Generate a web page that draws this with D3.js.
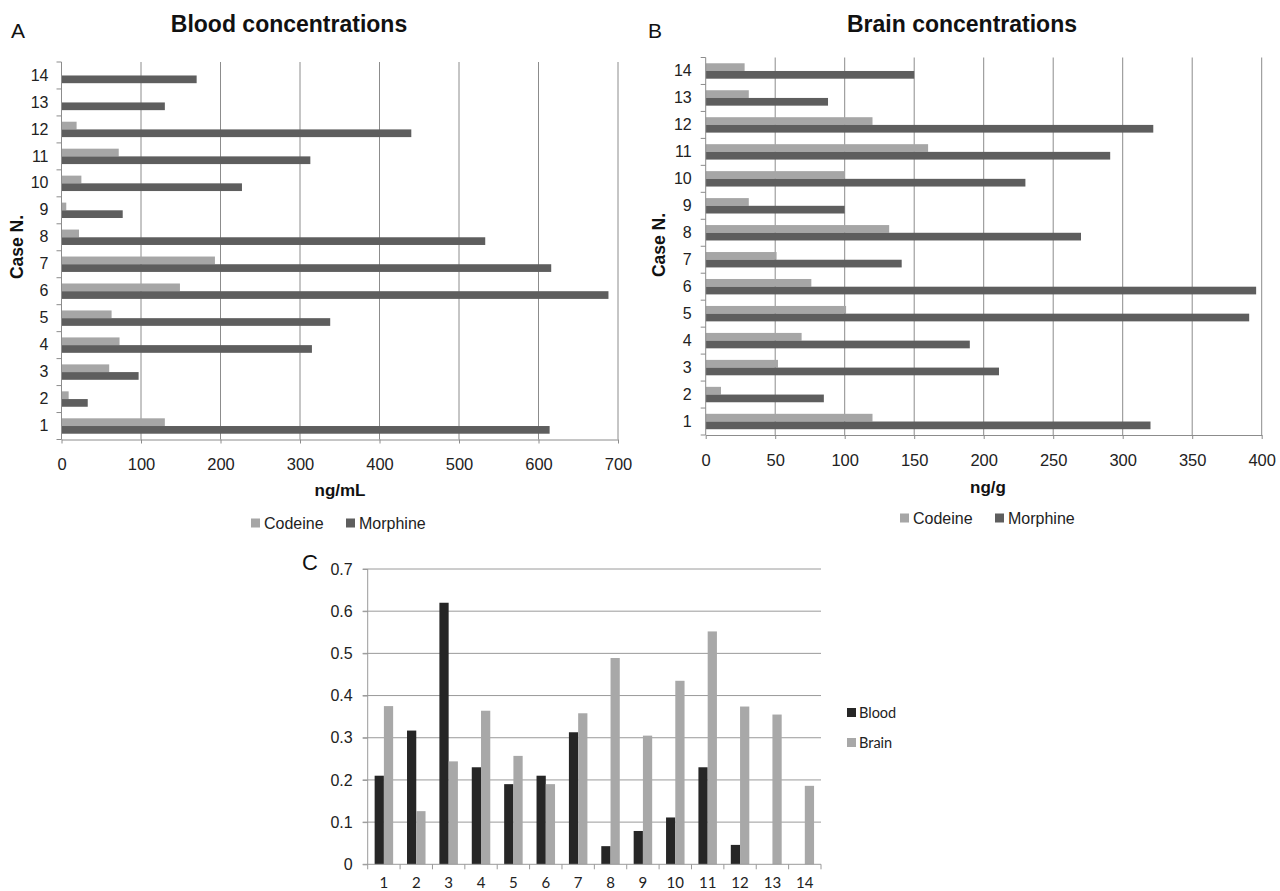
<!DOCTYPE html>
<html>
<head>
<meta charset="utf-8">
<script src="https://cdn.jsdelivr.net/npm/d3@7"></script>
<style>
  html, body { margin: 0; padding: 0; background: #fff; }
  svg { display: block; }
</style>
</head>
<body>
<svg id="chart" width="1280" height="891"></svg>
<script>
// ---------------- DATA ----------------
const cases = ["1","2","3","4","5","6","7","8","9","10","11","12","13","14"];
const seriesNames = ["Codeine", "Morphine"];
const ratioSeriesNames = ["Blood", "Brain"];

// Panel A: blood concentrations (ng/mL)
const bloodCodeine  = [130, 9, 60, 73, 63, 149, 193, 22, 6, 25, 72, 19, 0, 0];
const bloodMorphine = [614, 33, 97, 315, 338, 688, 616, 533, 77, 227, 313, 440, 130, 170];
const bloodTicks = [0, 100, 200, 300, 400, 500, 600, 700];

// Panel B: brain concentrations (ng/g)
const brainCodeine  = [120, 11, 52, 69, 101, 76, 51, 132, 31, 100, 160, 120, 31, 28];
const brainMorphine = [320, 85, 211, 190, 391, 396, 141, 270, 100, 230, 291, 322, 88, 150];
const brainTicks = [0, 50, 100, 150, 200, 250, 300, 350, 400];

// Panel C: codeine/morphine ratio
const ratioBlood = [0.21, 0.317, 0.62, 0.23, 0.19, 0.21, 0.313, 0.043, 0.079, 0.111, 0.23, 0.046, null, null];
const ratioBrain = [0.375, 0.126, 0.244, 0.364, 0.257, 0.19, 0.358, 0.489, 0.305, 0.435, 0.552, 0.374, 0.355, 0.186];
const ratioTicks = [0, 0.1, 0.2, 0.3, 0.4, 0.5, 0.6, 0.7];

// ---------------- STYLE ----------------
const ARIAL = "'Liberation Sans', Arial, sans-serif";
const CAL = "Lato, 'Open Sans', sans-serif";
const colCodeine = "#a6a6a6";
const colMorphine = "#5e5e5e";
const colBlood = "#262626";
const colBrain = "#a8a8a8";
const gridCol = "#8c8c8c";

const svg = d3.select("#chart");

function horizPanel(opt) {
  const g = svg.append("g");
  const x = d3.scaleLinear().domain([0, opt.max]).range([opt.x0, opt.x1]);
  const y = d3.scaleBand().domain(cases.slice().reverse()).range([opt.top, opt.bottom]).padding(0);
  const bw = y.bandwidth() / 3.5;

  // gridlines
  g.append("g").selectAll("line").data(opt.ticks.filter(t => t > 0)).join("line")
    .attr("x1", d => x(d)).attr("x2", d => x(d))
    .attr("y1", opt.top).attr("y2", opt.bottom)
    .attr("stroke", gridCol).attr("stroke-width", 1);

  // bars
  const rows = cases.map((c, i) => ({c, a: opt.a[i], b: opt.b[i]}));
  g.append("g").selectAll("rect").data(rows.filter(r => r.a > 0)).join("rect")
    .attr("x", x(0)).attr("y", d => y(d.c) + y.bandwidth() / 2 - bw)
    .attr("width", d => x(d.a) - x(0)).attr("height", bw)
    .attr("fill", colCodeine);
  g.append("g").selectAll("rect").data(rows.filter(r => r.b > 0)).join("rect")
    .attr("x", x(0)).attr("y", d => y(d.c) + y.bandwidth() / 2)
    .attr("width", d => x(d.b) - x(0)).attr("height", bw)
    .attr("fill", colMorphine);

  // x axis
  const xa = g.append("g").attr("transform", `translate(0,${opt.bottom})`)
    .call(d3.axisBottom(x).tickValues(opt.ticks).tickSize(4).tickSizeOuter(0).tickPadding(opt.xpad));
  xa.select(".domain").attr("stroke", gridCol);
  xa.selectAll(".tick line").attr("stroke", gridCol);
  xa.selectAll("text").attr("font-family", ARIAL).attr("font-size", opt.xfs).attr("fill", "#222");

  // y axis line + band boundary ticks
  g.append("line").attr("x1", x(0)).attr("x2", x(0)).attr("y1", opt.top).attr("y2", opt.bottom)
    .attr("stroke", gridCol);
  const bounds = y.domain().map(c => y(c)).concat([opt.bottom]);
  g.append("g").selectAll("line").data(bounds).join("line")
    .attr("x1", x(0) - 5).attr("x2", x(0)).attr("y1", d => d).attr("y2", d => d)
    .attr("stroke", gridCol);
  const ya = g.append("g").attr("transform", `translate(${x(0)},0)`)
    .call(d3.axisLeft(y).tickSize(0).tickPadding(opt.ypad));
  ya.select(".domain").remove();
  ya.selectAll("text").attr("font-family", ARIAL).attr("font-size", opt.yfs).attr("fill", "#222");

  // titles
  g.append("text").attr("x", opt.titleX).attr("y", 31.5).attr("text-anchor", "middle")
    .attr("font-family", ARIAL).attr("font-weight", "bold").attr("font-size", 23).attr("fill", "#111")
    .text(opt.title);
  g.append("text").attr("x", opt.letterX).attr("y", 38).attr("font-family", ARIAL)
    .attr("font-size", 21).attr("fill", "#111").text(opt.letter);
  g.append("text").attr("transform", `translate(${opt.caseX},${opt.caseY}) rotate(-90)`)
    .attr("text-anchor", "middle").attr("dy", "0.35em")
    .attr("font-family", ARIAL).attr("font-weight", "bold").attr("font-size", 17.5).attr("fill", "#111")
    .text("Case N.");
  g.append("text").attr("x", opt.unitX).attr("y", opt.unitY).attr("text-anchor", "middle")
    .attr("dy", "0.35em").attr("font-family", ARIAL).attr("font-weight", "bold").attr("font-size", 17)
    .attr("fill", "#111").text(opt.unit);

  // legend
  const lg = g.append("g");
  const items = [{n: seriesNames[0], c: colCodeine, x: opt.legX}, {n: seriesNames[1], c: colMorphine, x: opt.legX + 95}];
  items.forEach(it => {
    lg.append("rect").attr("x", it.x).attr("y", opt.legY - 4.5).attr("width", 9).attr("height", 9).attr("fill", it.c);
    lg.append("text").attr("x", it.x + 13).attr("y", opt.legY).attr("dy", "0.35em")
      .attr("font-family", ARIAL).attr("font-size", 16).attr("fill", "#222").text(it.n);
  });
}

horizPanel({
  x0: 61.5, x1: 618, top: 62, bottom: 439.5, max: 700, ticks: bloodTicks,
  a: bloodCodeine, b: bloodMorphine, xpad: 14.5, ypad: 13, xfs: 16.5, yfs: 16,
  title: "Blood concentrations", titleX: 289, letter: "A", letterX: 11,
  caseX: 17, caseY: 247, unit: "ng/mL", unitX: 340, unitY: 490, legX: 251, legY: 523
});
horizPanel({
  x0: 705.7, x1: 1261.7, top: 57.5, bottom: 435, max: 400, ticks: brainTicks,
  a: brainCodeine, b: brainMorphine, xpad: 15, ypad: 14, xfs: 16.5, yfs: 16,
  title: "Brain concentrations", titleX: 962, letter: "B", letterX: 648,
  caseX: 659, caseY: 245, unit: "ng/g", unitX: 988, unitY: 487, legX: 900, legY: 518
});

// ---------------- PANEL C ----------------
(function () {
  const g = svg.append("g");
  const x0 = 367.7, x1 = 821, yb = 864.3, yt = 569;
  const x = d3.scaleBand().domain(cases).range([x0, x1]).padding(0);
  const y = d3.scaleLinear().domain([0, 0.7]).range([yb, yt]);
  const bw = x.bandwidth() / 3.5;

  g.append("g").selectAll("line").data(ratioTicks.filter(t => t > 0)).join("line")
    .attr("x1", x0 - 5).attr("x2", x1).attr("y1", d => y(d)).attr("y2", d => y(d))
    .attr("stroke", "#9a9a9a");

  const rows = cases.map((c, i) => ({c, a: ratioBlood[i], b: ratioBrain[i]}));
  g.append("g").selectAll("rect").data(rows.filter(r => r.a != null)).join("rect")
    .attr("x", d => x(d.c) + x.bandwidth() / 2 - bw).attr("y", d => y(d.a))
    .attr("width", bw).attr("height", d => y(0) - y(d.a)).attr("fill", colBlood);
  g.append("g").selectAll("rect").data(rows.filter(r => r.b != null)).join("rect")
    .attr("x", d => x(d.c) + x.bandwidth() / 2).attr("y", d => y(d.b))
    .attr("width", bw).attr("height", d => y(0) - y(d.b)).attr("fill", colBrain);

  // y axis
  g.append("line").attr("x1", x0).attr("x2", x0).attr("y1", yt).attr("y2", yb).attr("stroke", "#9a9a9a");
  const ya = g.append("g").attr("transform", `translate(${x0},0)`)
    .call(d3.axisLeft(y).tickValues(ratioTicks).tickSize(5).tickPadding(10).tickFormat(d3.format("")));
  ya.select(".domain").remove();
  ya.selectAll(".tick line").attr("stroke", "#9a9a9a");
  ya.selectAll("text").attr("font-family", ARIAL).attr("font-size", 16).attr("fill", "#222");

  // x axis
  g.append("line").attr("x1", x0 - 5).attr("x2", x1).attr("y1", yb).attr("y2", yb).attr("stroke", "#9a9a9a");
  const bounds = cases.map(c => x(c)).concat([x1]);
  g.append("g").selectAll("line").data(bounds).join("line")
    .attr("x1", d => d).attr("x2", d => d).attr("y1", yb).attr("y2", yb + 5).attr("stroke", "#9a9a9a");
  const xa = g.append("g").attr("transform", `translate(0,${yb})`)
    .call(d3.axisBottom(x).tickSize(0).tickPadding(13));
  xa.select(".domain").remove();
  xa.selectAll("text").attr("font-family", CAL).attr("font-size", 15).attr("fill", "#222");

  g.append("text").attr("x", 302).attr("y", 570).attr("font-family", ARIAL)
    .attr("font-size", 22).attr("fill", "#111").text("C");

  const leg = [{n: ratioSeriesNames[0], c: colBlood, y: 712.5}, {n: ratioSeriesNames[1], c: colBrain, y: 742.5}];
  leg.forEach(it => {
    g.append("rect").attr("x", 847).attr("y", it.y - 4.5).attr("width", 9).attr("height", 9).attr("fill", it.c);
    g.append("text").attr("x", 859).attr("y", it.y).attr("dy", "0.35em").attr("font-family", CAL)
      .attr("font-size", 14.5).attr("fill", "#222").text(it.n);
  });
})();
</script>
</body>
</html>
